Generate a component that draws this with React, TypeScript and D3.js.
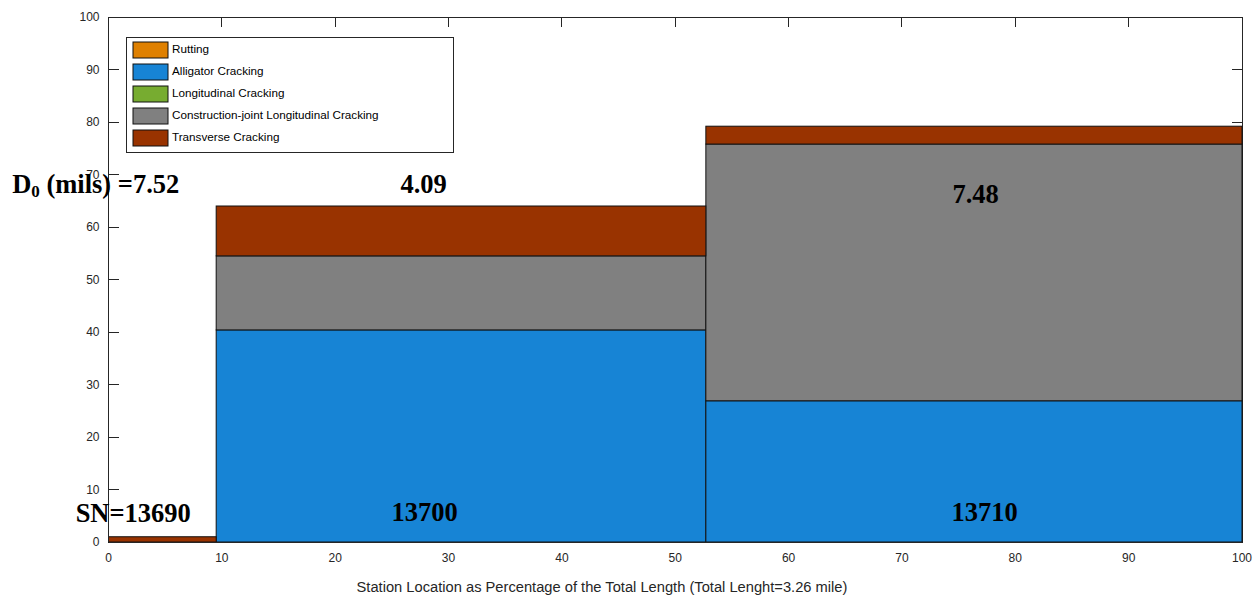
import React from "react";
import * as d3 from "d3";

const W = 1258;
const H = 598;

const segStart = [0, 9.5, 52.7];
const segEnd = [9.5, 52.7, 100];

const seriesNames = [
  "Rutting",
  "Alligator Cracking",
  "Longitudinal Cracking",
  "Construction-joint Longitudinal Cracking",
  "Transverse Cracking",
];
const seriesColors = ["#DF8000", "#1784D5", "#77AC30", "#808080", "#993300"];

const rutting = [0, 0, 0];
const alligator = [0, 40.4, 26.9];
const longitudinal = [0, 0, 0];
const constructionJoint = [0, 14.1, 48.9];
const transverse = [1.0, 9.5, 3.4];

const deflections = ["7.52", "4.09", "7.48"];
const structuralNumbers = ["13690", "13700", "13710"];

const xTicks = [0, 10, 20, 30, 40, 50, 60, 70, 80, 90, 100];
const yTicks = [0, 10, 20, 30, 40, 50, 60, 70, 80, 90, 100];

const xTitle =
  "Station Location as Percentage of the Total Length (Total Lenght=3.26 mile)";

export default function App() {
  const x = d3.scaleLinear().domain([0, 100]).range([108.5, 1242]);
  const y = d3.scaleLinear().domain([0, 100]).range([542, 17]);

  const series = [rutting, alligator, longitudinal, constructionJoint, transverse];
  const rows = segStart.map((_, i) => {
    const r: any = { i };
    seriesNames.forEach((n, k) => (r[n] = series[k][i]));
    return r;
  });
  const stacked = d3.stack<any>().keys(seriesNames)(rows);

  const axisColor = "#262626";
  const tickLen = 10;
  const sans = "'Liberation Sans', Arial, sans-serif";
  const serif = "'Liberation Serif', 'Times New Roman', serif";

  return (
    <svg
      width={W}
      height={H}
      style={{ position: "absolute", left: 0, top: 0, background: "#fff" }}
    >
      <rect x={0} y={0} width={W} height={H} fill="#fff" />
      {/* axes box */}
      <g stroke={axisColor} strokeWidth={1} fill="none" shapeRendering="crispEdges">
        <rect x={x(0)} y={y(100)} width={x(100) - x(0)} height={y(0) - y(100)} />
        {yTicks.map((t) => (
          <g key={"yt" + t}>
            <line x1={x(0)} x2={x(0) + tickLen} y1={y(t)} y2={y(t)} />
            <line x1={x(100)} x2={x(100) - tickLen} y1={y(t)} y2={y(t)} />
          </g>
        ))}
        {xTicks.map((t) => (
          <g key={"xt" + t}>
            <line x1={x(t)} x2={x(t)} y1={y(100)} y2={y(100) + tickLen} />
            <line x1={x(t)} x2={x(t)} y1={y(0)} y2={y(0) - tickLen} />
          </g>
        ))}
      </g>
      {/* bars */}
      <g>
        {stacked.map((layer, k) =>
          layer.map((d, i) => {
            if (d[1] - d[0] <= 0) return null;
            return (
              <rect
                key={k + "-" + i}
                x={x(segStart[i])}
                y={y(d[1])}
                width={x(segEnd[i]) - x(segStart[i])}
                height={y(d[0]) - y(d[1])}
                fill={seriesColors[k]}
                stroke="#111"
                strokeWidth={1}
              />
            );
          })
        )}
      </g>
      {/* bottom/left axis lines redrawn on top */}
      <g stroke={axisColor} strokeWidth={1} shapeRendering="crispEdges">
        <line x1={x(0)} x2={x(100)} y1={y(0)} y2={y(0)} />
        <line x1={x(0)} x2={x(0)} y1={y(0)} y2={y(100)} />
      </g>
      {/* tick labels */}
      <g fontFamily={sans} fontSize={12} fill={axisColor}>
        {yTicks.map((t) => (
          <text key={"yl" + t} x={x(0) - 9} y={y(t) + 4} textAnchor="end">
            {t}
          </text>
        ))}
        {xTicks.map((t) => (
          <text key={"xl" + t} x={x(t)} y={y(0) + 20} textAnchor="middle">
            {t}
          </text>
        ))}
        <text x={602} y={592} textAnchor="middle" fontSize={14.7}>
          {xTitle}
        </text>
      </g>
      {/* legend */}
      <g fontFamily={sans} fontSize={11.7} fill="#000">
        <rect x={126} y={37} width={327} height={115} fill="#fff" stroke={axisColor} strokeWidth={1} shapeRendering="crispEdges" />
        {seriesNames.map((n, k) => (
          <g key={"lg" + k}>
            <rect x={133} y={42 + k * 22} width={35} height={16} fill={seriesColors[k]} stroke="#111" strokeWidth={1} />
            <text x={172} y={53 + k * 22}>{n}</text>
          </g>
        ))}
      </g>
      {/* annotations */}
      <g fontFamily={serif} fontWeight="bold" fontSize={26.5} fill="#000">
        <text x={x(-8.5)} y={y(66.5)}>
          D<tspan fontSize={17} dy={4}>0</tspan>
          <tspan dy={-4}>{" (mils) =" + deflections[0]}</tspan>
        </text>
        <text x={x(27.8)} y={y(66.5)} textAnchor="middle">{deflections[1]}</text>
        <text x={x(76.5)} y={y(64.5)} textAnchor="middle">{deflections[2]}</text>
        <text x={x(-2.9)} y={y(3.8)}>{"SN=" + structuralNumbers[0]}</text>
        <text x={x(27.9)} y={y(4.0)} textAnchor="middle">{structuralNumbers[1]}</text>
        <text x={x(77.3)} y={y(4.0)} textAnchor="middle">{structuralNumbers[2]}</text>
      </g>
    </svg>
  );
}
